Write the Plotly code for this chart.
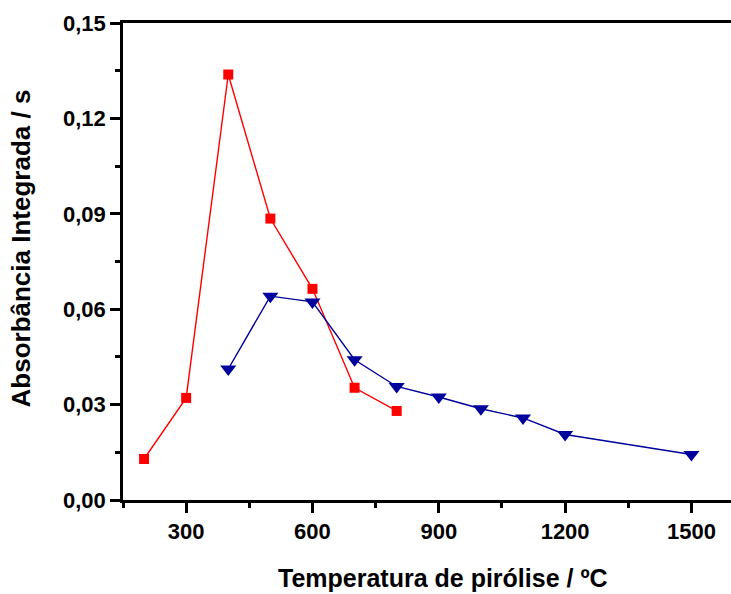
import plotly.graph_objects as go

# Data
temp_red = [200, 300, 400, 500, 600, 700, 800]
abs_red = [0.0129, 0.0321, 0.1338, 0.0885, 0.0664, 0.0353, 0.0280]

temp_blue = [400, 500, 600, 700, 800, 900, 1000, 1100, 1200, 1500]
abs_blue = [0.0412, 0.0641, 0.0623, 0.0441, 0.0357, 0.0324, 0.0287, 0.0258, 0.0206, 0.0143]

x_title = "Temperatura de pirólise / ºC"
y_title = "Absorbância Integrada / s"

FONT = "Liberation Sans, Arial, sans-serif"

fig = go.Figure()
fig.add_trace(go.Scatter(
    x=temp_red, y=abs_red, mode="lines+markers",
    line=dict(color="#FF0000", width=1.4),
    marker=dict(symbol="square", size=10, color="#FF0000"),
    showlegend=False,
))
fig.add_trace(go.Scatter(
    x=temp_blue, y=abs_blue, mode="lines+markers",
    line=dict(color="#00009C", width=1.4),
    marker=dict(symbol="triangle-down", size=14, color="#00009C"),
    showlegend=False,
))

axis_common = dict(
    showgrid=False, zeroline=False, showline=True, linecolor="black", linewidth=2.5,
    ticks="outside", ticklen=10, tickwidth=2.5, tickcolor="black",
    tickfont=dict(family=FONT, size=22, color="black", weight="bold"),
)

fig.update_layout(
    width=731, height=594,
    margin=dict(l=123, r=0, t=23, b=94),
    plot_bgcolor="white", paper_bgcolor="white",
    separators=",.",
    xaxis=dict(
        range=[150, 1594], tick0=300, dtick=300, mirror=True,
        minor=dict(ticks="outside", ticklen=5, tickwidth=2.5, tickcolor="black", dtick=150, tick0=150),
        **axis_common,
    ),
    yaxis=dict(
        range=[0, 0.15], tick0=0, dtick=0.03, tickformat=".2f",
        minor=dict(ticks="outside", ticklen=5, tickwidth=2.5, tickcolor="black", dtick=0.015, tick0=0),
        **axis_common,
    ),
    annotations=[
        dict(text=x_title, xref="paper", yref="paper", x=0.526, y=-0.1635,
             xanchor="center", yanchor="middle", showarrow=False,
             font=dict(family=FONT, size=25, color="black", weight="bold")),
        dict(text=y_title, xref="paper", yref="paper", x=-0.168, y=0.527,
             xanchor="center", yanchor="middle", showarrow=False, textangle=-90,
             font=dict(family=FONT, size=26, color="black", weight="bold")),
    ],
)

fig.write_html(
    "out.html",
    config={"displayModeBar": False},
    post_script="document.body.style.margin='0';document.body.style.padding='0';document.body.style.overflow='hidden';",
)
